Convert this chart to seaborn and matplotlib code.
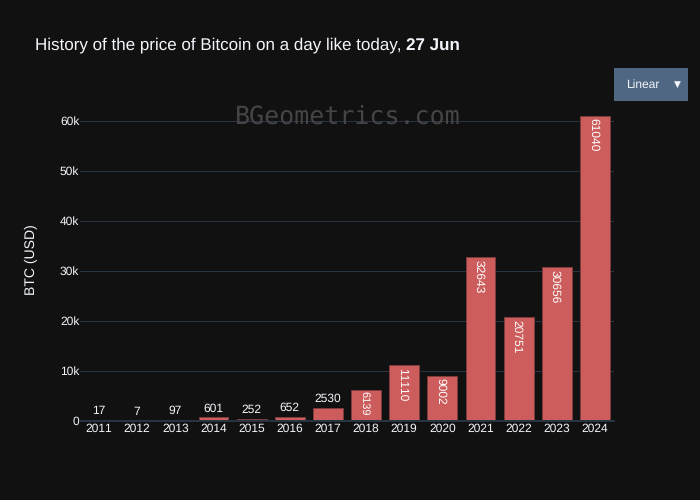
import matplotlib
matplotlib.use("Agg")
import matplotlib.pyplot as plt
from matplotlib.patches import Rectangle
import seaborn as sns
import pandas as pd

years = [str(y) for y in range(2011, 2025)]
prices = [17, 7, 97, 601, 252, 652, 2530, 6139, 11110, 9002, 32643, 20751, 30656, 61040]
inside_years = ["2018", "2019", "2020", "2021", "2022", "2023", "2024"]
shrunk_years = ["2018"]
y_ticks = [0, 10000, 20000, 30000, 40000, 50000, 60000]
y_tick_labels = ["0", "10k", "20k", "30k", "40k", "50k", "60k"]

BG = "#111111"
GRID = "#283442"
TXT = "#f2f5fa"

sns.set_theme(style="dark")
plt.rcParams["font.family"] = ["Liberation Sans", "DejaVu Sans"]
plt.rcParams["text.hinting"] = "no_hinting"
plt.rcParams["text.hinting_factor"] = 1

W, H = 700, 500
fig = plt.figure(figsize=(W / 100, H / 100), dpi=100, facecolor=BG)
ax = fig.add_axes([80 / W, (H - 420.5) / H, 534 / W, 321 / H], facecolor=BG)

df = pd.DataFrame({"year": years, "price": prices})
sns.barplot(data=df, x="year", y="price", color="#cd5c5c", saturation=1, width=0.78,
            edgecolor="#7d3c3c", linewidth=0.72, ax=ax, zorder=3)

ax.set_xlim(-0.5, 13.5)
ax.set_ylim(0, 64252)
ax.set_yticks(y_ticks, y_tick_labels)
ax.tick_params(axis="both", length=0, labelsize=8.64, labelcolor=TXT)
ax.tick_params(axis="x", pad=2.0)
ax.tick_params(axis="y", pad=0.5)
ax.grid(axis="y", color=GRID, linewidth=0.72, zorder=0)
ax.grid(axis="x", visible=False)
for s in ax.spines.values():
    s.set_visible(False)
ax.axhline(0, color=GRID, linewidth=1.44, zorder=4, clip_on=False)
ax.set_xlabel("")
ax.set_ylabel("")

for i, (yr, v) in enumerate(zip(years, prices)):
    if yr in inside_years:
        small = yr in shrunk_years
        ax.annotate(str(v), (i, v), xytext=(-1.2, -0.8 if small else -2),
                    textcoords="offset points", rotation=270, ha="center", va="top",
                    color="white", fontsize=7.8 if small else 8.64, zorder=5)
    else:
        ax.annotate(str(v), (i, v), xytext=(0, 2.5), textcoords="offset points",
                    ha="center", va="bottom", color=TXT, fontsize=8.64, zorder=5)

t1 = fig.text(35 / W, 1 - 49.6 / H, "History of the price of Bitcoin on a day like today, ",
              color=TXT, fontsize=12.2, ha="left", va="baseline")
fig.canvas.draw()
bb = t1.get_window_extent()
fig.text(bb.x1 / W, 1 - 51 / H, "27 Jun", color=TXT, fontsize=12.2,
         fontweight="bold", ha="left", va="baseline")

fig.text(31 / W, 1 - 260 / H, "BTC (USD)", color=TXT, fontsize=10.1, rotation=90,
         ha="center", va="center")

fig.text(347.5 / W, 1 - 116.5 / H, "BGeometrics.com", color="#454545", fontsize=18,
         family="DejaVu Sans Mono", ha="center", va="center", zorder=1)

fig.add_artist(Rectangle((614 / W, 1 - 101 / H), 74 / W, 33 / H, transform=fig.transFigure,
                         facecolor="#506784", edgecolor="none"))
fig.text(642.5 / W, 1 - 84.5 / H, "Linear", color=TXT, fontsize=8.64, ha="center", va="center")
fig.text(677.5 / W, 1 - 84 / H, "▼", color=TXT, fontsize=6.5, family="DejaVu Sans",
         ha="center", va="center")

fig.savefig("out.png", dpi=100, facecolor=BG)
